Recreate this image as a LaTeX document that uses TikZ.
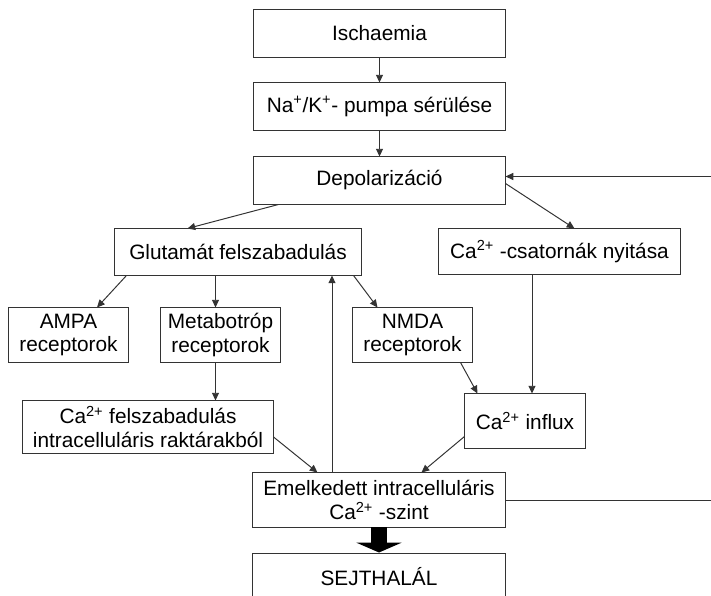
\documentclass[tikz,border=0pt]{standalone}
\usepackage{fontspec}
\setmainfont{Liberation Sans}
\usetikzlibrary{arrows.meta,calc}

\tikzset{
    doboz/.style={draw=black!80, line width=0.7pt, fill=white, inner sep=2pt,
        align=center, font=\fontsize{14.8}{17}\selectfont},
    nyil/.style={draw=black!80, line width=0.7pt,
        -{Triangle[length=5.5pt,width=5pt]}},
}

\begin{document}
\begin{tikzpicture}[x=0.025cm, y=-0.025cm]
    \useasboundingbox (0,0) rectangle (711,596);

    % Dobozok
    \node[doboz, minimum width=6.275cm, minimum height=1.175cm] (isch) at (379.5,33.5) {Ischaemia};
    \node[doboz, minimum width=6.275cm, minimum height=1.175cm] (pumpa) at (379.5,106.5)
        {Na\textsuperscript{+}/K\textsuperscript{+}- pumpa sérülése};
    \node[doboz, minimum width=6.275cm, minimum height=1.175cm] (depol) at (379.5,180.5) {Depolarizáció};
    \node[doboz, minimum width=6.15cm, minimum height=1.15cm] (glut) at (238,252) {Glutamát felszabadulás};
    \node[doboz, minimum width=6.025cm, minimum height=1.125cm] (csat) at (559.5,251.5)
        {Ca\textsuperscript{2+} -csatornák nyitása};
    \node[doboz, minimum width=2.975cm, minimum height=1.35cm] (ampa) at (68.5,335) {AMPA\\receptorok};
    \node[doboz, minimum width=2.975cm, minimum height=1.35cm] (metab) at (220.5,335) {Metabotróp\\receptorok};
    \node[doboz, minimum width=2.975cm, minimum height=1.35cm] (nmda) at (412.5,335) {NMDA\\receptorok};
    \node[doboz, minimum width=6.25cm, minimum height=1.3cm] (felsz) at (148,427)
        {Ca\textsuperscript{2+} felszabadulás\\intracelluláris raktárakból};
    \node[doboz, minimum width=3cm, minimum height=1.35cm] (influx) at (525,421)
        {Ca\textsuperscript{2+} influx};
    \node[doboz, minimum width=6.3cm, minimum height=1.35cm] (emel) at (379,500)
        {Emelkedett intracelluláris\\Ca\textsuperscript{2+} -szint};
    \node[doboz, minimum width=6.3cm, minimum height=1.2cm] (halal) at (379,577) {SEJTHALÁL};

    % Segédpontok a függőleges nyilakhoz
    \coordinate (mx) at ($(metab.north)+(-5,0)$);
    \coordinate (cx) at ($(influx.north)+(7,0)$);
    \coordinate (gx) at ($(emel.north)+(-47,0)$);

    % Nyilak
    \draw[nyil] (isch) -- (pumpa);
    \draw[nyil] (pumpa) -- (depol);
    \draw[nyil] ($(depol.south west)+(25,0)$) -- ($(glut.north west)+(73,0)$);
    \draw[nyil] ($(depol.east)+(0,3)$) -- ($(csat.north west)+(136,0)$);
    \draw[nyil] ($(glut.south west)+(12,0)$) -- ($(ampa.north)+(28.5,0)$);
    \draw[nyil] (glut.south -| mx) -- (mx);
    \draw[nyil] ($(glut.south east)+(-8,0)$) -- ($(nmda.north west)+(25,0)$);
    \draw[nyil] (metab.south -| mx) -- (felsz.north -| mx);
    \draw[nyil] (csat.south -| cx) -- (cx);
    \draw[nyil] ($(nmda.south east)+(-12,0)$) -- ($(influx.north west)+(13,0)$);
    \draw[nyil] ($(felsz.east)+(0,10)$) -- ($(emel.north west)+(65,0)$);
    \draw[nyil] ($(influx.south west)+(0,-12)$) -- ($(emel.north west)+(169,0)$);
    \draw[nyil] (gx) -- (glut.south -| gx);
    \draw[nyil] (emel.east) -- ($(emel.east)+(208,0)$) |- ($(depol.east)+(0,-4)$);
    \draw[line width=10.7pt, -{Triangle[length=7pt,width=32pt]}] (emel.south) -- (halal.north);
\end{tikzpicture}
\end{document}
